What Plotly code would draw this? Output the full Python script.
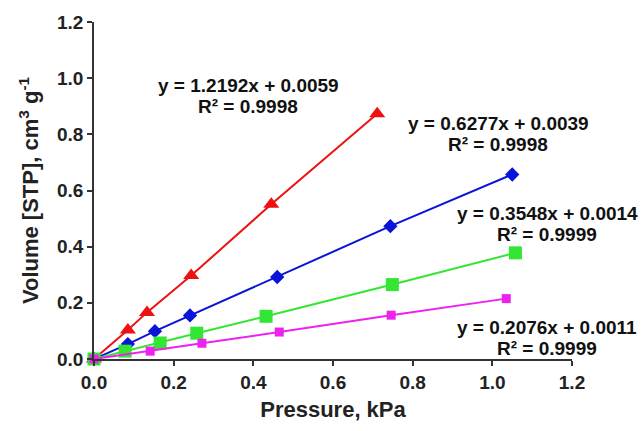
import plotly.graph_objects as go

# Data
red_x = [0.0, 0.085, 0.133, 0.244, 0.445, 0.711]
red_y = [0.0, 0.103, 0.166, 0.297, 0.551, 0.873]
blue_x = [0.0, 0.085, 0.153, 0.241, 0.46, 0.744, 1.05]
blue_y = [0.0, 0.053, 0.099, 0.155, 0.292, 0.473, 0.657]
green_x = [0.0, 0.078, 0.166, 0.258, 0.432, 0.749, 1.058]
green_y = [0.0, 0.028, 0.057, 0.092, 0.152, 0.265, 0.378]
mag_x = [0.0, 0.141, 0.271, 0.465, 0.746, 1.035]
mag_y = [0.0, 0.028, 0.056, 0.096, 0.156, 0.215]

eq_texts = ["y = 1.2192x + 0.0059", "y = 0.6277x + 0.0039",
            "y = 0.3548x + 0.0014", "y = 0.2076x + 0.0011"]
r2_texts = ["R² = 0.9998", "R² = 0.9998", "R² = 0.9999", "R² = 0.9999"]

FONT = "Liberation Sans, Arial, sans-serif"

fig = go.Figure()
series = [
    (red_x, red_y, "#ee1111", "triangle-up", 14),
    (blue_x, blue_y, "#0a14d8", "diamond", 11),
    (green_x, green_y, "#33e633", "square", 13),
    (mag_x, mag_y, "#ee22ee", "square", 9),
]
for xs, ys, c, sym, sz in series:
    fig.add_trace(go.Scatter(x=xs, y=ys, mode="lines+markers",
                             line=dict(color=c, width=2),
                             marker=dict(color=c, symbol=sym, size=sz),
                             cliponaxis=False, showlegend=False))

# annotation anchor positions in data coords
ann_x = [0.387, 1.015, 1.138, 1.136]
ann_y = [0.936, 0.80, 0.48, 0.074]
for t, r, ax_, ay_ in zip(eq_texts, r2_texts, ann_x, ann_y):
    fig.add_annotation(x=ax_, y=ay_, xref="x", yref="y", showarrow=False, yshift=11,
                       text="<b>" + t + "</b>",
                       font=dict(family=FONT, size=19, color="#111"))
    fig.add_annotation(x=ax_, y=ay_, xref="x", yref="y", showarrow=False, yshift=-10,
                       text="<b>" + r + "</b>",
                       font=dict(family=FONT, size=19, color="#111"))

axis_common = dict(range=[0, 1.2], dtick=0.2, tickformat=".1f", showgrid=False,
                   zeroline=False, showline=True, linecolor="#333", linewidth=1.5,
                   ticks="outside", ticklen=5, tickcolor="#333", tickwidth=1.5,
                   tickfont=dict(family=FONT, size=19, color="#222", weight="bold"))
fig.update_xaxes(**axis_common,
                 title=dict(text="Pressure, kPa", standoff=10,
                            font=dict(family=FONT, size=22, color="#222", weight="bold")))
fig.update_yaxes(**axis_common,
                 title=dict(text="Volume [STP], cm<sup>3</sup> g<sup>-1</sup>", standoff=12,
                            font=dict(family=FONT, size=22, color="#222", weight="bold")))

fig.update_layout(width=643, height=431, margin=dict(l=94, r=71, t=19, b=72),
                  plot_bgcolor="white", paper_bgcolor="white")
fig.write_html("out.html")
